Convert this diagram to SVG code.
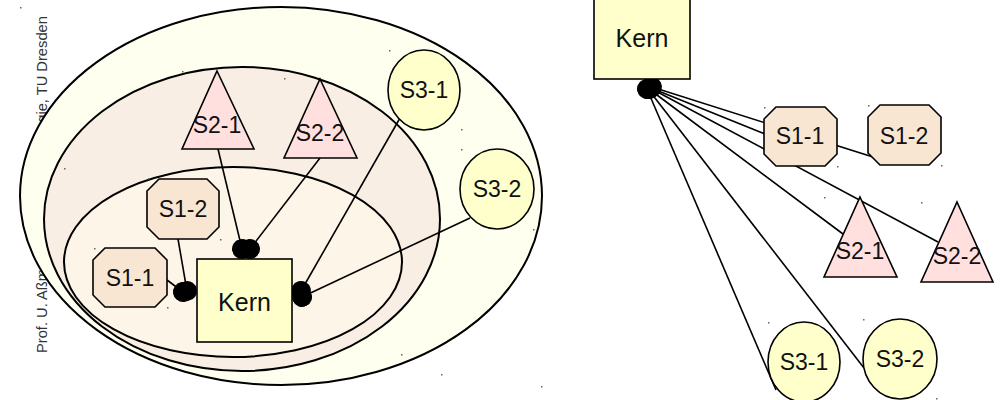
<svg xmlns="http://www.w3.org/2000/svg" width="1000" height="400" viewBox="0 0 1000 400">
<defs>
<style>
.lbl{font-family:"Liberation Sans",Arial,sans-serif;font-size:23px;fill:#111;text-anchor:middle}
.kern{font-size:25px}
.ell{stroke:#000;stroke-width:2}
.oct{fill:#F8E6D2;stroke:#000;stroke-width:1.6}
.tri{fill:#FFE0DF;stroke:#000;stroke-width:1.6}
.cir{fill:#FFFFCC;stroke:#000;stroke-width:1.6}
.box{fill:#FFFFCC;stroke:#000;stroke-width:1.6}
.con{stroke:#000;stroke-width:1.6;fill:none}
.ball{marker-end:url(#ball)}
.ballS{marker-start:url(#ball)}
.dot{fill:#666}
</style>
<marker id="ball" viewBox="0 0 20 20" refX="10" refY="10" markerWidth="20" markerHeight="20" markerUnits="userSpaceOnUse" orient="auto">
<circle cx="10" cy="10" r="10" fill="#000"/>
</marker>
</defs>
<rect width="1000" height="400" fill="#fff"/>
<text x="0" y="0" transform="translate(47,353) rotate(-90)" style="font-family:'Liberation Sans',Arial,sans-serif;font-size:14.7px;fill:#333">Prof. U. Aßmann, Softwaretechnologie, TU Dresden</text>
<g id="layers">
<ellipse id="layer3" class="ell" cx="281" cy="196" rx="261" ry="189" fill="#FFFFF0"/>
<ellipse id="layer2" class="ell" cx="242" cy="219" rx="198" ry="152" fill="#F9EEE3"/>
<ellipse id="layer1" class="ell" cx="233" cy="262" rx="169" ry="95" fill="#FDF5E8"/>
</g>
<g id="connectors">
<line class="con ball" x1="167" y1="280" x2="183" y2="292"/>
<line class="con ball" x1="178" y1="239" x2="187" y2="291"/>
<line class="con ball" x1="218" y1="149" x2="242" y2="249"/>
<line class="con ball" x1="320" y1="158" x2="250" y2="249"/>
<line class="con ball" x1="400" y1="118" x2="301" y2="291"/>
<line class="con ball" x1="470" y1="218" x2="302" y2="297"/>
<line class="con ballS" x1="652" y1="87" x2="873" y2="157"/>
<line class="con ballS" x1="651" y1="88" x2="770" y2="136"/>
<line class="con ballS" x1="650" y1="88" x2="938" y2="242"/>
<line class="con ballS" x1="649" y1="89" x2="843" y2="234"/>
<line class="con ballS" x1="648" y1="89" x2="864" y2="368"/>
<line class="con ballS" x1="647" y1="89" x2="776" y2="390"/>
</g>
<g id="kern-left"><rect class="box" x="197" y="259" width="95" height="83"/><text class="lbl kern" x="244.5" y="311">Kern</text></g>
<g id="s1-1-left"><polygon class="oct" points="105,248 155,248 167,260 167,295 155,307 105,307 93,295 93,260"/><text class="lbl" x="130" y="286">S1-1</text></g>
<g id="s1-2-left"><polygon class="oct" points="159,179 207,179 219,191 219,227 207,239 159,239 147,227 147,191"/><text class="lbl" x="183" y="217">S1-2</text></g>
<g id="s2-1-left"><polygon class="tri" points="217,71 254,149 182,149"/><text class="lbl" x="217" y="133">S2-1</text></g>
<g id="s2-2-left"><polygon class="tri" points="320,79 357,158 284,158"/><text class="lbl" x="320" y="141">S2-2</text></g>
<g id="s3-1-left"><ellipse class="cir" cx="424" cy="90" rx="36" ry="40"/><text class="lbl" x="424" y="98">S3-1</text></g>
<g id="s3-2-left"><ellipse class="cir" cx="497" cy="189" rx="37" ry="40"/><text class="lbl" x="497" y="197">S3-2</text></g>
<g id="kern-right"><rect class="box" x="594" y="-4" width="96" height="83"/><text class="lbl kern" x="642" y="47">Kern</text></g>
<g id="s1-1-right"><polygon class="oct" points="776,107 825,107 837,119 837,154 825,166 776,166 764,154 764,119"/><text class="lbl" x="800" y="144">S1-1</text></g>
<g id="s1-2-right"><polygon class="oct" points="880,105 929,105 941,117 941,153 929,165 880,165 868,153 868,117"/><text class="lbl" x="904" y="144">S1-2</text></g>
<g id="s2-1-right"><polygon class="tri" points="860,197 897,277 824,277"/><text class="lbl" x="860" y="259">S2-1</text></g>
<g id="s2-2-right"><polygon class="tri" points="957,202 993,282 921,282"/><text class="lbl" x="957" y="264">S2-2</text></g>
<g id="s3-1-right"><ellipse class="cir" cx="804" cy="362" rx="36" ry="40"/><text class="lbl" x="804" y="370">S3-1</text></g>
<g id="s3-2-right"><ellipse class="cir" cx="900" cy="359" rx="37" ry="40"/><text class="lbl" x="900" y="367">S3-2</text></g>
<g id="specks">
<rect class="dot" x="20" y="7" width="1.5" height="1.5"/>
<rect class="dot" x="64" y="168" width="1.5" height="1.5"/>
<rect class="dot" x="94" y="248" width="1.5" height="1.5"/>
<rect class="dot" x="182" y="71" width="1.5" height="1.5"/>
<rect class="dot" x="284" y="78" width="1.5" height="1.5"/>
<rect class="dot" x="389" y="50" width="1.5" height="1.5"/>
<rect class="dot" x="148" y="178" width="1.5" height="1.5"/>
<rect class="dot" x="220" y="239" width="1.5" height="1.5"/>
<rect class="dot" x="167" y="307" width="1.5" height="1.5"/>
<rect class="dot" x="461" y="129" width="1.5" height="1.5"/>
<rect class="dot" x="461" y="149" width="1.5" height="1.5"/>
<rect class="dot" x="533" y="229" width="1.5" height="1.5"/>
<rect class="dot" x="401" y="354" width="1.5" height="1.5"/>
<rect class="dot" x="441" y="374" width="1.5" height="1.5"/>
<rect class="dot" x="541" y="386" width="1.5" height="1.5"/>
<rect class="dot" x="764" y="107" width="1.5" height="1.5"/>
<rect class="dot" x="868" y="105" width="1.5" height="1.5"/>
<rect class="dot" x="837" y="166" width="1.5" height="1.5"/>
<rect class="dot" x="941" y="165" width="1.5" height="1.5"/>
<rect class="dot" x="824" y="197" width="1.5" height="1.5"/>
<rect class="dot" x="921" y="202" width="1.5" height="1.5"/>
<rect class="dot" x="768" y="322" width="1.5" height="1.5"/>
<rect class="dot" x="863" y="319" width="1.5" height="1.5"/>
<rect class="dot" x="936" y="398" width="1.5" height="1.5"/>
</g>
</svg>
